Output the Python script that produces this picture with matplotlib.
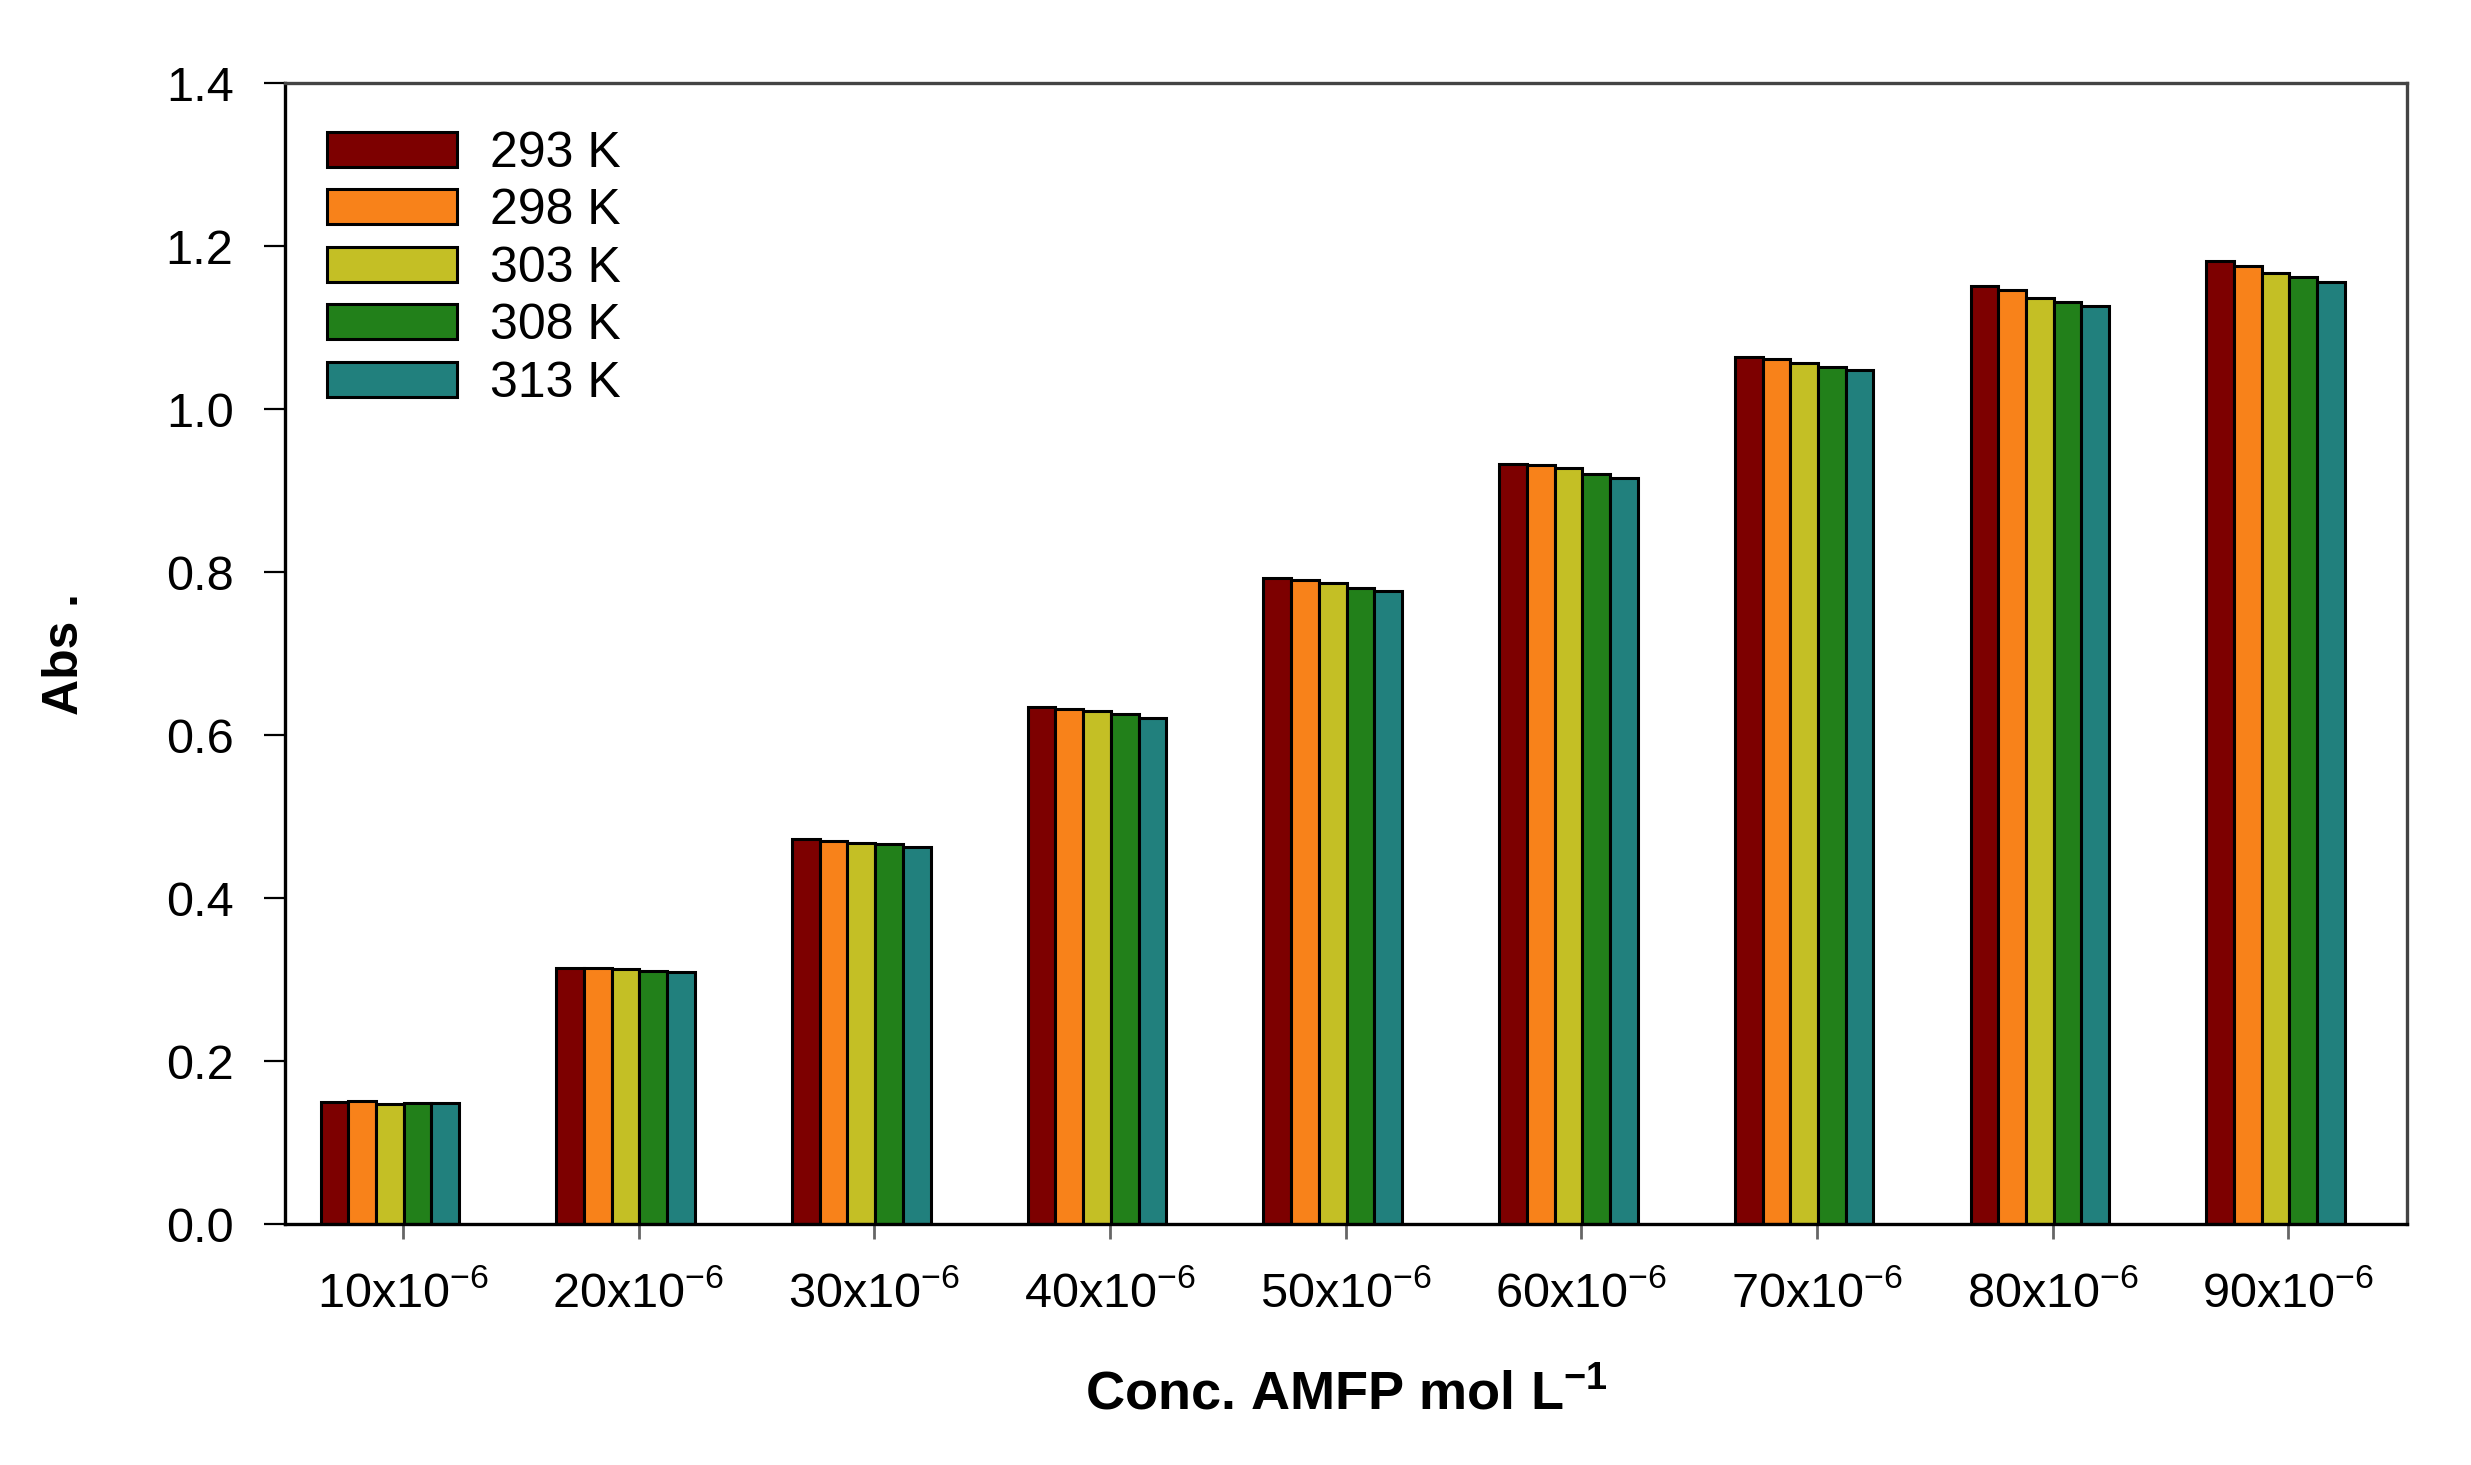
import numpy as np
import matplotlib.pyplot as plt

plt.rcParams['font.family'] = ['Liberation Sans', 'DejaVu Sans']
plt.rcParams['mathtext.fontset'] = 'custom'
plt.rcParams['mathtext.rm'] = 'Liberation Sans'
plt.rcParams['mathtext.bf'] = 'Liberation Sans:bold'

# data
conc_labels = [r'$\mathregular{%dx10^{-6}}$' % c for c in [10, 20, 30, 40, 50, 60, 70, 80, 90]]
temps = ['293 K', '298 K', '303 K', '308 K', '313 K']
abs_293 = [0.150, 0.314, 0.472, 0.634, 0.793, 0.932, 1.064, 1.151, 1.182]
abs_298 = [0.151, 0.314, 0.470, 0.632, 0.790, 0.931, 1.062, 1.146, 1.176]
abs_303 = [0.147, 0.313, 0.468, 0.629, 0.787, 0.928, 1.057, 1.136, 1.167]
abs_308 = [0.149, 0.311, 0.466, 0.626, 0.781, 0.920, 1.052, 1.131, 1.162]
abs_313 = [0.148, 0.309, 0.462, 0.621, 0.777, 0.916, 1.048, 1.126, 1.156]
colors = ['#7D0000', '#F8821A', '#C4BF25', '#22801A', '#21807D']

series = [abs_293, abs_298, abs_303, abs_308, abs_313]

fig = plt.figure(figsize=(24.71, 14.65), dpi=100)
ax = fig.add_axes([0.1153, 0.1645, 0.8588, 0.7788])

x = np.arange(len(conc_labels))
w = 0.1175
for k, (vals, lab, col) in enumerate(zip(series, temps, colors)):
    ax.bar(x + (k - 2) * w, vals, width=w, color=col, edgecolor='black',
           linewidth=2.2, label=lab)

ax.set_xlim(-0.4455, 8.558)
ax.set_ylim(0, 1.4)
ax.set_yticks(np.arange(0, 1.41, 0.2))
ax.set_yticklabels(['%.1f' % v for v in np.arange(0, 1.41, 0.2)])
ax.set_xticks(x + 0.055)
ax.set_xticklabels(conc_labels)

ax.tick_params(axis='y', direction='out', length=15, width=1.6, pad=22,
               labelsize=35, colors='black')
ax.tick_params(axis='x', direction='out', length=11, width=2, pad=23,
               labelsize=35, color='#666666')

for side in ['left', 'bottom']:
    ax.spines[side].set_linewidth(2.4)
    ax.spines[side].set_color('black')
for side in ['top', 'right']:
    ax.spines[side].set_linewidth(2.4)
    ax.spines[side].set_color('#444444')

ax.set_xlabel(r'Conc. AMFP mol $\mathregular{L^{-1}}$', fontsize=39,
              fontweight='bold')
ax.xaxis.set_label_coords(0.5, -0.127)
ax.set_ylabel('Abs .', fontsize=36, fontweight='bold')
ax.yaxis.set_label_coords(-0.093, 0.5)

ax.legend(loc='upper left', bbox_to_anchor=(0.02, 0.958), frameon=False,
          fontsize=36, handlelength=2.6, handleheight=0.7, handletextpad=0.65,
          labelspacing=0.23, borderpad=0, borderaxespad=0)

fig.savefig('out.png', dpi=100)
